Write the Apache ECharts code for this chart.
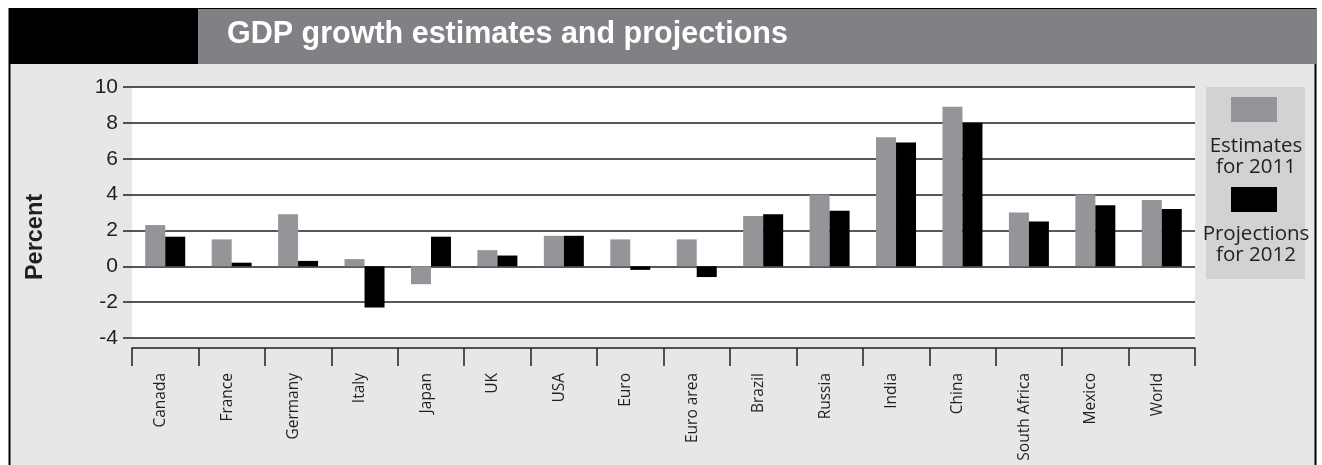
<!DOCTYPE html>
<html>
<head>
<meta charset="utf-8">
<script src="https://cdn.jsdelivr.net/npm/echarts@6/dist/echarts.min.js"></script>
<style>
  html, body { margin: 0; padding: 0; background: #ffffff; }
  #chart { width: 1322px; height: 465px; }
</style>
</head>
<body>
<div id="chart"></div>
<script>
// GDP growth, percent
const categories = ['Canada', 'France', 'Germany', 'Italy', 'Japan', 'UK', 'USA', 'Euro',
  'Euro area', 'Brazil', 'Russia', 'India', 'China', 'South Africa', 'Mexico', 'World'];
const estimates2011 = [2.3, 1.5, 2.9, 0.4, -1.0, 0.9, 1.7, 1.5, 1.5, 2.8, 4.0, 7.2, 8.9, 3.0, 4.0, 3.7];
const projections2012 = [1.65, 0.2, 0.3, -2.3, 1.65, 0.6, 1.7, -0.2, -0.6, 2.9, 3.1, 6.9, 8.0, 2.5, 3.4, 3.2];
const seriesNames = ['Estimates\nfor 2011', 'Projections\nfor 2012'];
const titleText = 'GDP growth estimates and projections';
const axisTitle = 'Percent';

const INK = '#231f20';
const GRAY_BAR = '#939598';

const chart = echarts.init(document.getElementById('chart'), null, { renderer: 'canvas' });

chart.setOption({
  animation: false,
  backgroundColor: '#ffffff',
  grid: {
    left: 132, right: 127, top: 87, bottom: 127,
    show: true, backgroundColor: '#ffffff', borderWidth: 0
  },
  xAxis: {
    type: 'category',
    data: categories,
    offset: 10,
    z: 2,
    axisLine: { onZero: false, lineStyle: { color: INK, width: 1.5 } },
    axisTick: { show: true, length: 18, lineStyle: { color: INK, width: 1.5 } },
    axisLabel: {
      rotate: 90, margin: 25, interval: 0,
      fontFamily: '"Open Sans", sans-serif', fontSize: 15.5, color: INK,
      verticalAlign: 'bottom', lineHeight: 9
    }
  },
  yAxis: {
    type: 'value',
    min: -4, max: 10, interval: 2,
    z: 2,
    axisLine: { show: false },
    axisTick: { show: true, length: 9, lineStyle: { color: INK, width: 1.5 } },
    axisLabel: { margin: 14, fontFamily: '"Liberation Sans", Arial, sans-serif', fontSize: 21, color: INK },
    splitLine: { show: true, lineStyle: { color: INK, width: 1.5 } }
  },
  series: [
    {
      name: seriesNames[0], type: 'bar', data: estimates2011,
      barWidth: 20, barGap: '0%',
      itemStyle: { color: GRAY_BAR }, z: 3
    },
    {
      name: seriesNames[1], type: 'bar', data: projections2012,
      barWidth: 20, barGap: '0%',
      itemStyle: { color: '#000000' }, z: 3
    }
  ],
  graphic: [
    // page frame and light panel
    { type: 'rect', z: -10, silent: true,
      shape: { x: 9.5, y: 9, width: 1306, height: 470 },
      style: { fill: '#e6e7e8', stroke: '#000000', lineWidth: 2 } },
    // title bar
    { type: 'rect', z: -9, silent: true,
      shape: { x: 9, y: 9, width: 190, height: 55 }, style: { fill: '#000000' } },
    { type: 'rect', z: -9, silent: true,
      shape: { x: 198, y: 9, width: 1118, height: 55 }, style: { fill: '#808184' } },
    { type: 'text', z: -8, silent: true, x: 227, y: 35,
      style: { text: titleText, fill: '#ffffff', verticalAlign: 'middle',
        font: 'bold 30.5px "Liberation Sans", Arial, sans-serif' } },
    // vertical axis title
    { type: 'text', z: -8, silent: true, x: 36, y: 237, rotation: Math.PI / 2,
      style: { text: axisTitle, fill: INK, align: 'center', verticalAlign: 'middle',
        font: 'bold 23.5px "Liberation Sans", Arial, sans-serif' } },
    // legend panel
    { type: 'rect', z: -8, silent: true,
      shape: { x: 1206, y: 87, width: 99, height: 192 }, style: { fill: '#d1d2d4' } },
    { type: 'rect', z: -7, silent: true,
      shape: { x: 1231, y: 97, width: 46, height: 25 }, style: { fill: GRAY_BAR } },
    { type: 'text', z: -7, silent: true, x: 1256, y: 157,
      style: { text: seriesNames[0], fill: INK, align: 'center', verticalAlign: 'middle',
        lineHeight: 21, font: '20.5px "Open Sans", sans-serif' } },
    { type: 'rect', z: -7, silent: true,
      shape: { x: 1231, y: 187, width: 46, height: 25 }, style: { fill: '#000000' } },
    { type: 'text', z: -7, silent: true, x: 1256, y: 244.5,
      style: { text: seriesNames[1], fill: INK, align: 'center', verticalAlign: 'middle',
        lineHeight: 21, font: '20.5px "Open Sans", sans-serif' } }
  ]
});
</script>
</body>
</html>
